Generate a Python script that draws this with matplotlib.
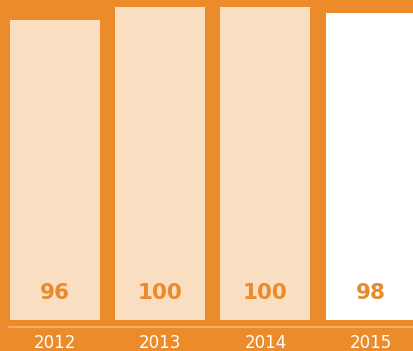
import matplotlib
matplotlib.use("Agg")
import matplotlib.pyplot as plt

years = ["2012", "2013", "2014", "2015"]
values = [96, 100, 100, 98]
bar_colors = ["#FADEC1", "#FADEC1", "#FADEC1", "#FFFFFF"]

orange = "#EB8B2A"
W, H = 414, 351
fig = plt.figure(figsize=(W / 100, H / 100), dpi=100, facecolor=orange)
ax = fig.add_axes([0, (H - 320) / H, 1, 320 / H])
ax.set_facecolor(orange)
x = list(range(len(years)))
ax.bar(x, values, width=0.855, color=bar_colors, edgecolor="none")
ax.set_xlim(-0.523, 3.413)
ax.set_ylim(0, 102.24)
for s in ax.spines.values():
    s.set_visible(False)
ax.set_xticks([])
ax.set_yticks([])

for xi, v in zip(x, values):
    ax.text(xi, 8.5, str(v), ha="center", va="center", fontsize=15.5,
            fontweight="bold", color="#E98B2C", family="DejaVu Sans")

# baseline line and year labels in figure coordinates
fig.add_artist(plt.Line2D([9 / W, 1], [1 - 327 / H, 1 - 327 / H],
                          color="#F5B477", lw=1.2))
for xi, yr in zip(x, years):
    px = 55 + 105.2 * xi
    fig.text(px / W, 1 - 343 / H, yr, ha="center", va="center",
             fontsize=12, color="white", family="DejaVu Sans")

fig.savefig("out.png", dpi=100, facecolor=orange)
